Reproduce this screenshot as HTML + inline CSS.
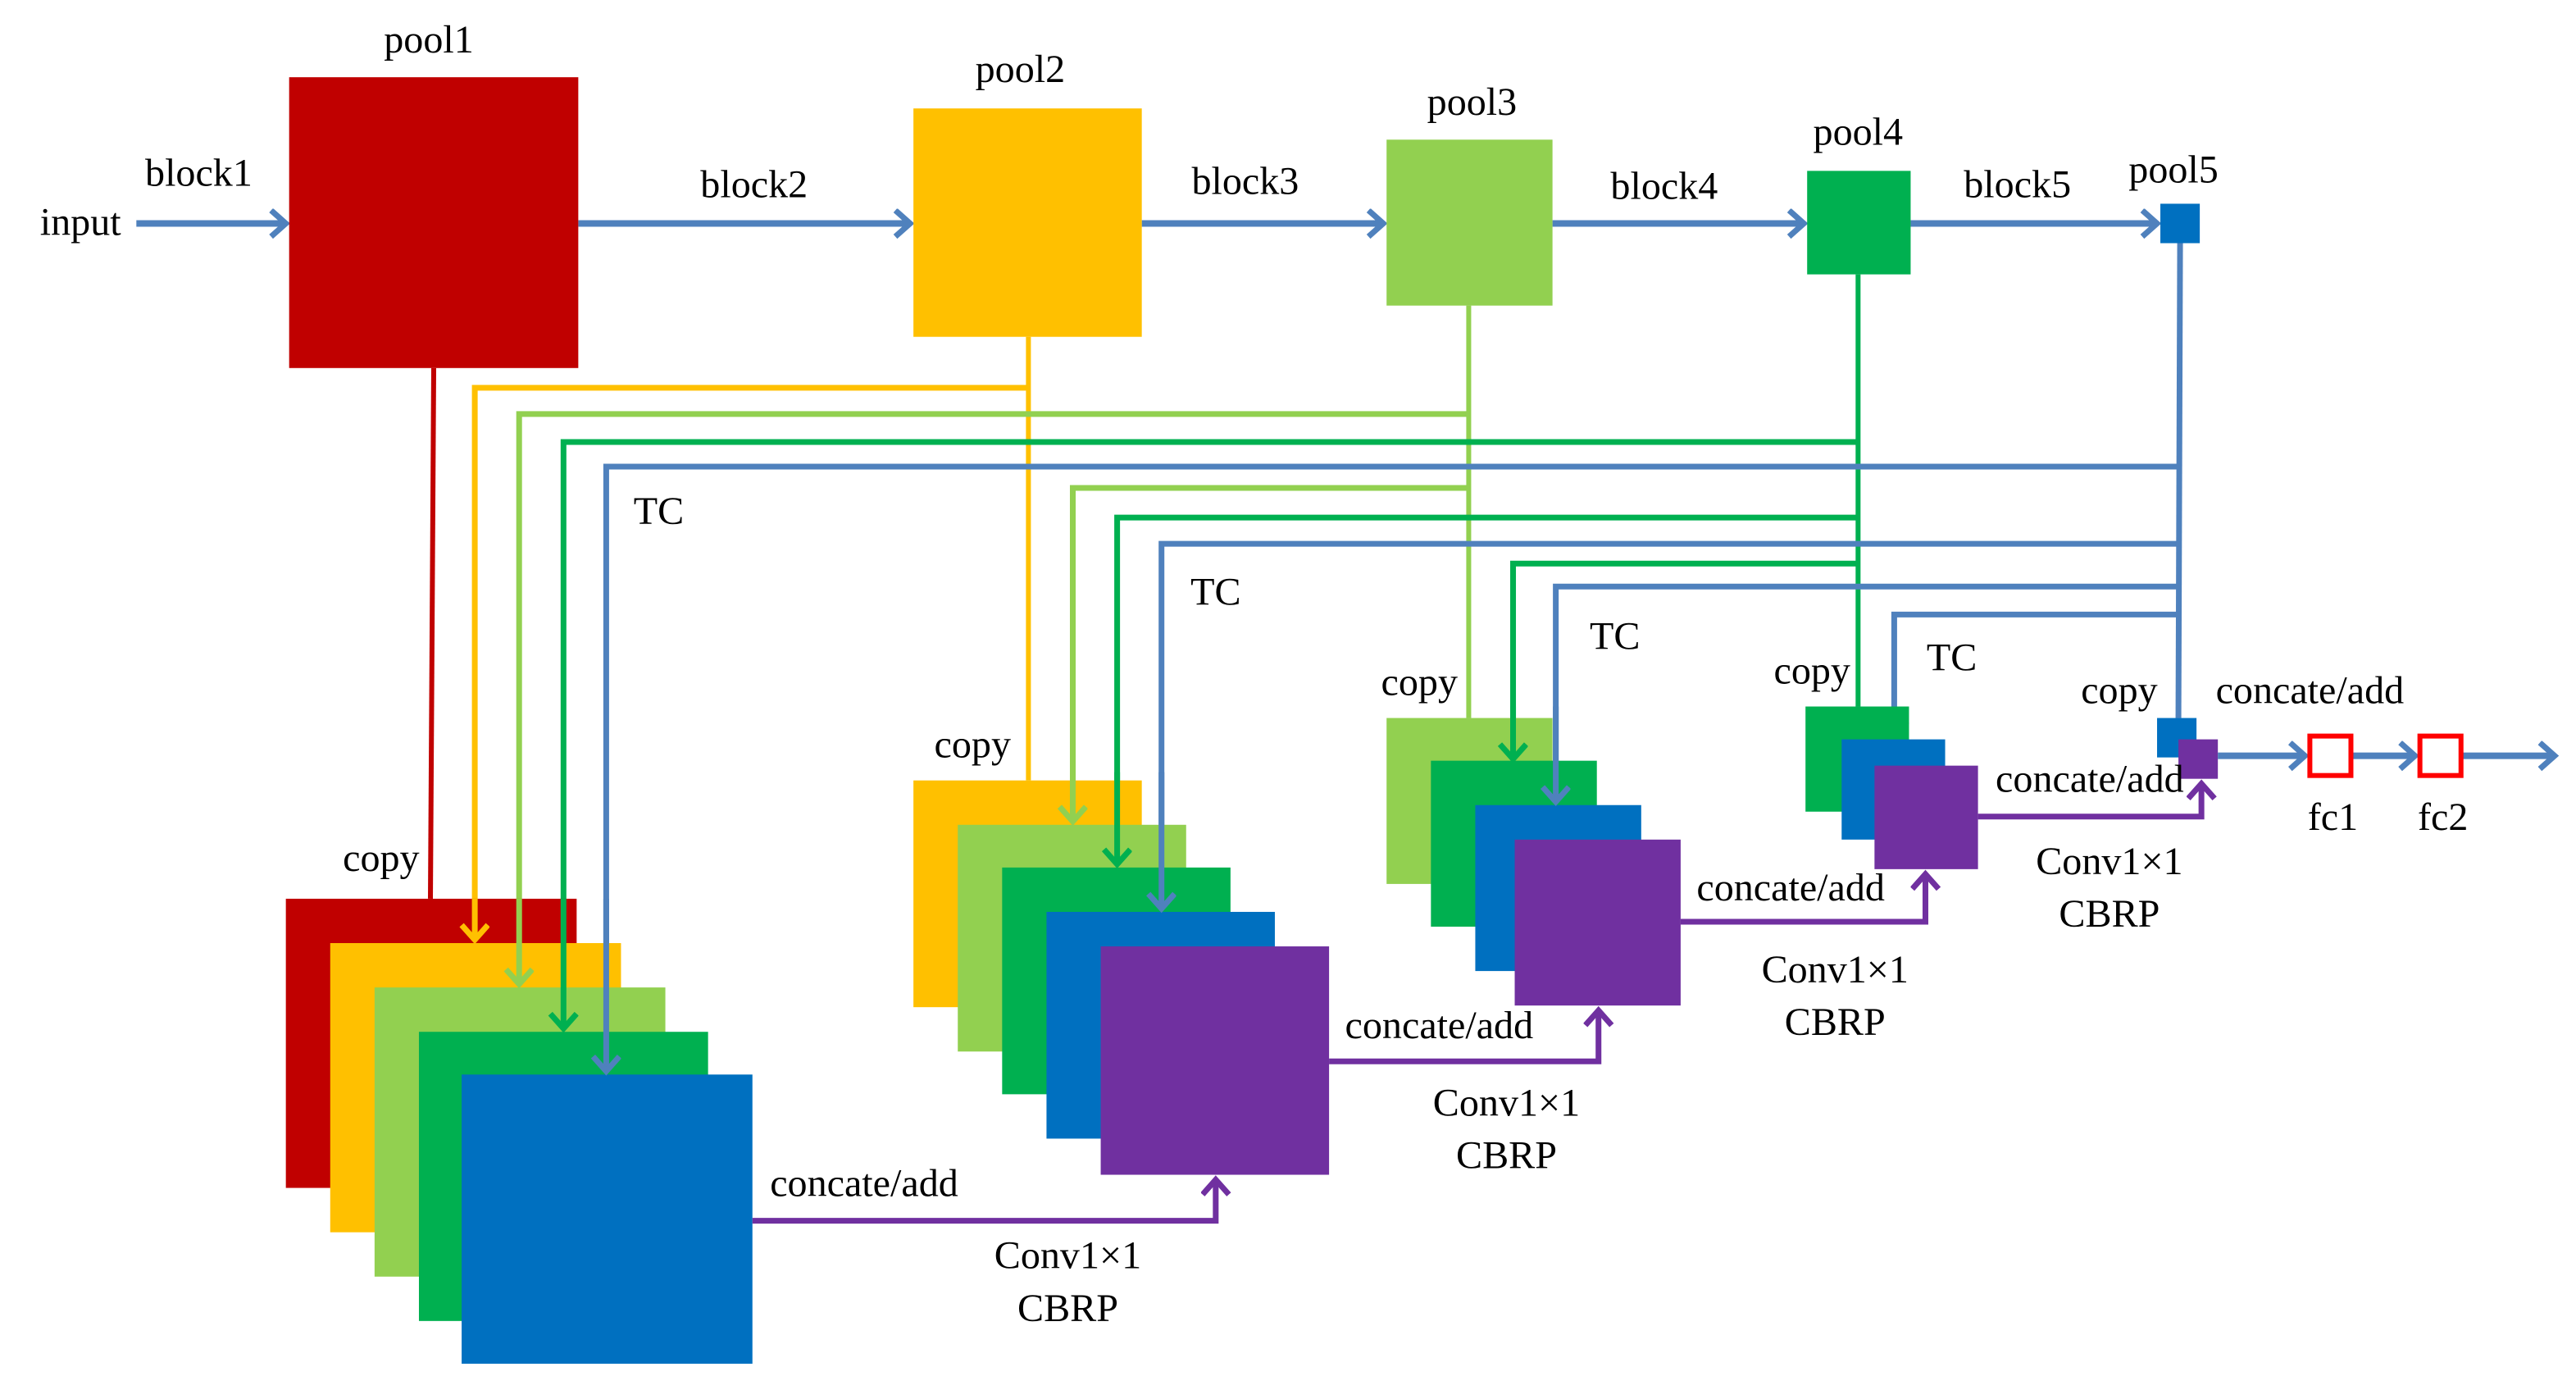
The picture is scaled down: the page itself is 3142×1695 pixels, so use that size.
<!DOCTYPE html>
<html><head><meta charset="utf-8"><style>
html,body{margin:0;padding:0;background:#fff;}
svg{display:block;}
svg text{font-family:"Liberation Serif","Times New Roman",serif;font-size:24px;fill:#000;text-anchor:middle;}
</style></head><body>
<svg width="3142" height="1695" viewBox="0 0 1568 846" preserveAspectRatio="none" xmlns="http://www.w3.org/2000/svg" font-family="Liberation Serif, serif">
<defs>
<marker id="ab" markerUnits="userSpaceOnUse" markerWidth="16" markerHeight="20" refX="12" refY="9" orient="auto"><path d="M3,1 L12,9 L3,17" fill="none" stroke="#4f81bd" stroke-width="3.5"/></marker>
<marker id="ay" markerUnits="userSpaceOnUse" markerWidth="16" markerHeight="20" refX="12" refY="9" orient="auto"><path d="M3,1 L12,9 L3,17" fill="none" stroke="#ffc000" stroke-width="3.5"/></marker>
<marker id="al" markerUnits="userSpaceOnUse" markerWidth="16" markerHeight="20" refX="12" refY="9" orient="auto"><path d="M3,1 L12,9 L3,17" fill="none" stroke="#92d050" stroke-width="3.5"/></marker>
<marker id="ag" markerUnits="userSpaceOnUse" markerWidth="16" markerHeight="20" refX="12" refY="9" orient="auto"><path d="M3,1 L12,9 L3,17" fill="none" stroke="#00b050" stroke-width="3.5"/></marker>
<marker id="ap" markerUnits="userSpaceOnUse" markerWidth="16" markerHeight="20" refX="12" refY="9" orient="auto"><path d="M3,1 L12,9 L3,17" fill="none" stroke="#7030a0" stroke-width="3.5"/></marker>
</defs>

<g stroke="#4f81bd" stroke-width="4" fill="none">
<line x1="83" y1="136" x2="174" y2="136" marker-end="url(#ab)"/>
<line x1="352" y1="136" x2="554" y2="136" marker-end="url(#ab)"/>
<line x1="695" y1="136" x2="842" y2="136" marker-end="url(#ab)"/>
<line x1="945" y1="136" x2="1098" y2="136" marker-end="url(#ab)"/>
<line x1="1163" y1="136" x2="1313" y2="136" marker-end="url(#ab)"/>
</g>
<rect x="176" y="47" width="176" height="177" fill="#c00000"/>
<rect x="556" y="66" width="139" height="139" fill="#ffc000"/>
<rect x="844" y="85" width="101" height="101" fill="#92d050"/>
<rect x="1100" y="104" width="63" height="63" fill="#00b050"/>
<rect x="1315" y="124" width="24" height="24" fill="#0070c0"/>
<text x="49" y="143">input</text>
<text x="121" y="113">block1</text>
<text x="261" y="32">pool1</text>
<text x="459" y="120">block2</text>
<text x="621" y="50">pool2</text>
<text x="758" y="118">block3</text>
<text x="896" y="70">pool3</text>
<text x="1013" y="121">block4</text>
<text x="1131" y="88">pool4</text>
<text x="1228" y="120">block5</text>
<text x="1323" y="111">pool5</text>

<line x1="264" y1="224" x2="262" y2="547" stroke="#c00000" stroke-width="3"/>
<line x1="626" y1="205" x2="626" y2="475" stroke="#ffc000" stroke-width="3"/>
<line x1="894" y1="186" x2="894" y2="437" stroke="#92d050" stroke-width="3"/>
<line x1="1131" y1="167" x2="1131" y2="430" stroke="#00b050" stroke-width="3"/>
<line x1="1327" y1="148" x2="1326" y2="437" stroke="#4f81bd" stroke-width="3.5"/>

<g fill="none" stroke-width="3.5">
<polyline points="626,236 289,236 289,572" stroke="#ffc000" marker-end="url(#ay)"/>
<polyline points="894,252 316,252 316,599" stroke="#92d050" marker-end="url(#al)"/>
<polyline points="1131,269 343,269 343,626" stroke="#00b050" marker-end="url(#ag)"/>
<polyline points="1327,284 369,284 369,652" stroke="#4f81bd" marker-end="url(#ab)"/>
<polyline points="894,297 653,297 653,500" stroke="#92d050" marker-end="url(#al)"/>
<polyline points="1131,315 680,315 680,526" stroke="#00b050" marker-end="url(#ag)"/>
<polyline points="1327,331 707,331 707,553" stroke="#4f81bd" marker-end="url(#ab)"/>
<polyline points="1131,343 921,343 921,462" stroke="#00b050" marker-end="url(#ag)"/>
<polyline points="1327,357 947,357 947,488" stroke="#4f81bd" marker-end="url(#ab)"/>
<polyline points="1327,374 1153,374 1153,448" stroke="#4f81bd" marker-end="url(#ab)"/>
</g>
<text x="401" y="319">TC</text>
<text x="740" y="368">TC</text>
<text x="983" y="395">TC</text>
<text x="1188" y="408">TC</text>

<rect x="174" y="547" width="177" height="176" fill="#c00000"/>
<rect x="201" y="574" width="177" height="176" fill="#ffc000"/>
<rect x="228" y="601" width="177" height="176" fill="#92d050"/>
<rect x="255" y="628" width="176" height="176" fill="#00b050"/>
<rect x="281" y="654" width="177" height="176" fill="#0070c0"/>
<g fill="none" stroke-width="3.5">
<line x1="289" y1="547" x2="289" y2="572" stroke="#ffc000" marker-end="url(#ay)"/>
<line x1="316" y1="547" x2="316" y2="599" stroke="#92d050" marker-end="url(#al)"/>
<line x1="343" y1="547" x2="343" y2="626" stroke="#00b050" marker-end="url(#ag)"/>
<line x1="369" y1="547" x2="369" y2="652" stroke="#4f81bd" marker-end="url(#ab)"/>
</g>
<text x="232" y="530">copy</text>

<rect x="556" y="475" width="139" height="138" fill="#ffc000"/>
<rect x="583" y="502" width="139" height="138" fill="#92d050"/>
<rect x="610" y="528" width="139" height="138" fill="#00b050"/>
<rect x="637" y="555" width="139" height="138" fill="#0070c0"/>
<rect x="670" y="576" width="139" height="139" fill="#7030a0"/>
<g fill="none" stroke-width="3.5">
<line x1="653" y1="470" x2="653" y2="500" stroke="#92d050" marker-end="url(#al)"/>
<line x1="680" y1="470" x2="680" y2="526" stroke="#00b050" marker-end="url(#ag)"/>
<line x1="707" y1="470" x2="707" y2="553" stroke="#4f81bd" marker-end="url(#ab)"/>
</g>
<text x="592" y="461">copy</text>

<rect x="844" y="437" width="101" height="101" fill="#92d050"/>
<rect x="871" y="463" width="101" height="101" fill="#00b050"/>
<rect x="898" y="490" width="101" height="101" fill="#0070c0"/>
<rect x="922" y="511" width="101" height="101" fill="#7030a0"/>
<g fill="none" stroke-width="3.5">
<line x1="921" y1="430" x2="921" y2="462" stroke="#00b050" marker-end="url(#ag)"/>
<line x1="947" y1="430" x2="947" y2="488" stroke="#4f81bd" marker-end="url(#ab)"/>
</g>
<text x="864" y="423">copy</text>

<rect x="1099" y="430" width="63" height="64" fill="#00b050"/>
<rect x="1121" y="450" width="63" height="61" fill="#0070c0"/>
<rect x="1141" y="466" width="63" height="63" fill="#7030a0"/>
<text x="1103" y="416">copy</text>

<rect x="1313" y="437" width="24" height="24" fill="#0070c0"/>
<rect x="1326" y="450" width="24" height="24" fill="#7030a0"/>
<text x="1290" y="428">copy</text>

<g fill="none" stroke="#7030a0" stroke-width="3.5">
<polyline points="458,743 740,743 740,718" marker-end="url(#ap)"/>
<polyline points="809,646 973,646 973,615" marker-end="url(#ap)"/>
<polyline points="1023,561 1172,561 1172,532" marker-end="url(#ap)"/>
<polyline points="1204,497 1340,497 1340,477" marker-end="url(#ap)"/>
</g>
<text x="526" y="728">concate/add</text>
<text x="650" y="772">Conv1×1</text>
<text x="650" y="804">CBRP</text>
<text x="876" y="632">concate/add</text>
<text x="917" y="679">Conv1×1</text>
<text x="917" y="711">CBRP</text>
<text x="1090" y="548">concate/add</text>
<text x="1117" y="598">Conv1×1</text>
<text x="1117" y="630">CBRP</text>
<text x="1272" y="482">concate/add</text>
<text x="1284" y="532">Conv1×1</text>
<text x="1284" y="564">CBRP</text>

<g stroke="#4f81bd" stroke-width="4" fill="none">
<line x1="1350" y1="460" x2="1403" y2="460" marker-end="url(#ab)"/>
<line x1="1432" y1="460" x2="1470" y2="460" marker-end="url(#ab)"/>
<line x1="1499" y1="460" x2="1555" y2="460" marker-end="url(#ab)"/>
</g>
<rect x="1406" y="448" width="25" height="24" fill="#fff" stroke="#ff0000" stroke-width="3"/>
<rect x="1473" y="448" width="25" height="24" fill="#fff" stroke="#ff0000" stroke-width="3"/>
<text x="1406" y="428">concate/add</text>
<text x="1420" y="505">fc1</text>
<text x="1487" y="505">fc2</text>
</svg>
</body></html>
